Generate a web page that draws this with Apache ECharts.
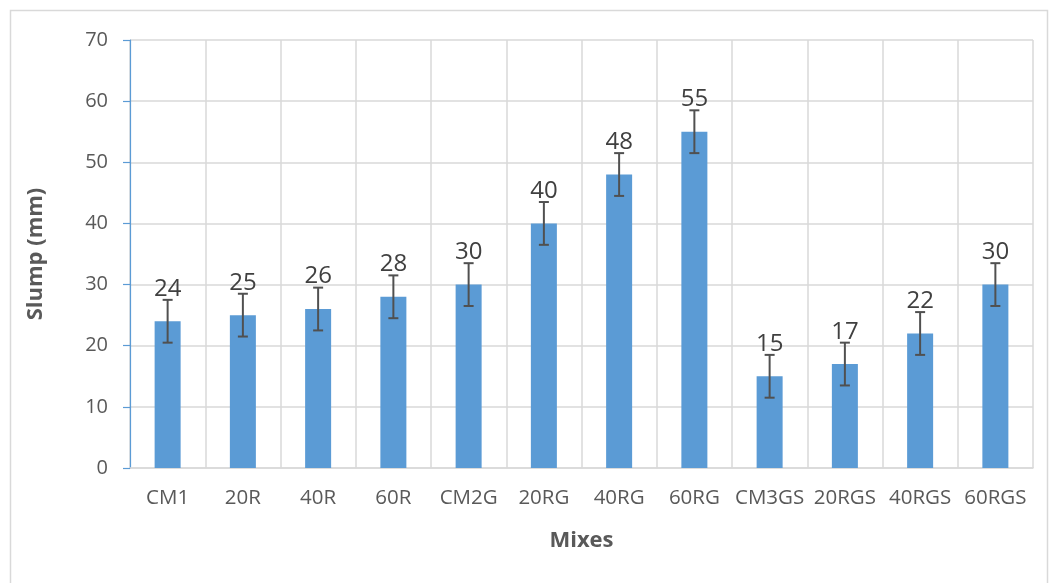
<!DOCTYPE html>
<html>
<head>
<meta charset="utf-8">
<script src="https://cdn.jsdelivr.net/npm/echarts@6/dist/echarts.min.js"></script>
<style>
html,body{margin:0;padding:0;background:#fff;}
#chart{width:1056px;height:583px;}
</style>
</head>
<body>
<div id="chart"></div>
<script>
// Slump test results per mix, with standard-deviation error bars
const mixes = ['CM1', '20R', '40R', '60R', 'CM2G', '20RG', '40RG', '60RG', 'CM3GS', '20RGS', '40RGS', '60RGS'];
const slump = [24, 25, 26, 28, 30, 40, 48, 55, 15, 17, 22, 30];
const slumpError = [3.5, 3.5, 3.5, 3.5, 3.5, 3.5, 3.5, 3.5, 3.5, 3.5, 3.5, 3.5];
const yTicks = { min: 0, max: 70, interval: 10 };

const FONT = '"Open Sans", "Noto Sans", sans-serif';
const chart = echarts.init(document.getElementById('chart'), null, { renderer: 'canvas' });

const errorData = mixes.map((m, i) => [i, slump[i] - slumpError[i], slump[i] + slumpError[i], slump[i]]);

chart.setOption({
  animation: false,
  backgroundColor: '#ffffff',
  graphic: [{
    type: 'rect',
    shape: { x: 10.5, y: 10.5, width: 1037, height: 600 },
    style: { fill: 'none', stroke: '#d9d9d9', lineWidth: 1.5 },
    silent: true,
    z: -10
  }],
  grid: { left: 130, top: 40, right: 23, bottom: 115, containLabel: false },
  xAxis: {
    type: 'category',
    data: mixes,
    name: 'Mixes',
    nameLocation: 'middle',
    nameGap: 62,
    nameTextStyle: { fontFamily: FONT, fontSize: 22, fontWeight: 'bold', color: '#595959' },
    axisLine: { lineStyle: { color: '#d9d9d9', width: 1.5 } },
    axisTick: { show: false },
    axisLabel: { fontFamily: FONT, fontSize: 20.5, color: '#595959', margin: 20, interval: 0 },
    splitLine: { show: true, lineStyle: { color: '#d9d9d9', width: 1.5 } }
  },
  yAxis: {
    type: 'value',
    min: yTicks.min,
    max: yTicks.max,
    interval: yTicks.interval,
    name: 'Slump (mm)',
    nameLocation: 'middle',
    nameGap: 83,
    nameRotate: 90,
    nameTextStyle: { fontFamily: FONT, fontSize: 22, fontWeight: 'bold', color: '#595959' },
    axisLine: { show: true, lineStyle: { color: '#5b9bd5', width: 1.2 } },
    axisTick: { show: true, length: 7, lineStyle: { color: '#5b9bd5', width: 1.2 } },
    axisLabel: { fontFamily: FONT, fontSize: 20, color: '#595959', margin: 22 },
    splitLine: { show: true, lineStyle: { color: '#d9d9d9', width: 1.5 } }
  },
  series: [
    {
      type: 'bar',
      data: slump,
      barWidth: 26,
      itemStyle: { color: '#5b9bd5' },
      z: 2
    },
    {
      type: 'custom',
      data: errorData,
      encode: { x: 0, y: [1, 2] },
      z: 3,
      renderItem: function (params, api) {
        const x = api.coord([api.value(0), 0])[0];
        const lo = api.coord([api.value(0), api.value(1)])[1];
        const hi = api.coord([api.value(0), api.value(2)])[1];
        const cap = 5;
        const style = { stroke: '#505050', lineWidth: 2 };
        return {
          type: 'group',
          children: [
            { type: 'line', shape: { x1: x, y1: hi, x2: x, y2: lo }, style: style },
            { type: 'line', shape: { x1: x - cap, y1: hi, x2: x + cap, y2: hi }, style: style },
            { type: 'line', shape: { x1: x - cap, y1: lo, x2: x + cap, y2: lo }, style: style },
            {
              type: 'text',
              style: {
                text: String(api.value(3)),
                x: x,
                y: hi + 1,
                textAlign: 'center',
                textVerticalAlign: 'bottom',
                fontFamily: FONT,
                fontSize: 24,
                fill: '#404040'
              }
            }
          ]
        };
      }
    }
  ]
});
</script>
</body>
</html>
